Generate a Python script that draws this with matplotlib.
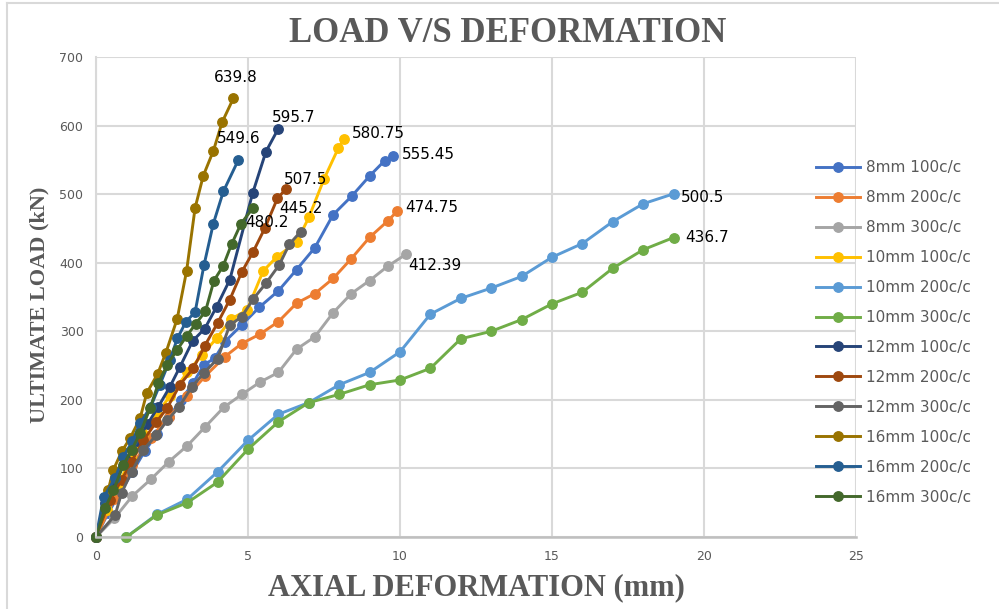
import matplotlib
matplotlib.use("Agg")
import matplotlib.pyplot as plt
from matplotlib.lines import Line2D

# ---------------------------------------------------------------------------
# Data (deformation in mm, load in kN)
# ---------------------------------------------------------------------------
series_names = [
    "8mm 100c/c", "8mm 200c/c", "8mm 300c/c",
    "10mm 100c/c", "10mm 200c/c", "10mm 300c/c",
    "12mm 100c/c", "12mm 200c/c", "12mm 300c/c",
    "16mm 100c/c", "16mm 200c/c", "16mm 300c/c",
]

x_8_100 = [0, 0.4, 0.8, 1.2, 1.6, 2.0, 2.4, 2.8, 3.2, 3.55, 3.91, 4.24, 4.79,
           5.37, 6.0, 6.6, 7.2, 7.8, 8.41, 9.01, 9.5, 9.76]
y_8_100 = [0, 35, 65, 95, 125, 150, 175, 200, 225, 251, 261, 285, 309,
           335, 359, 390, 422, 470, 497, 527, 549, 555.45]

x_8_200 = [0, 0.6, 1.2, 1.8, 2.4, 3.0, 3.6, 4.24, 4.79, 5.4, 6.0, 6.6, 7.2,
           7.8, 8.4, 9.0, 9.6, 9.9]
y_8_200 = [0, 55, 105, 145, 175, 205, 235, 263, 282, 296, 314, 341, 355,
           377, 406, 437, 461, 474.75]

x_8_300 = [0, 0.6, 1.2, 1.8, 2.4, 3.0, 3.6, 4.2, 4.8, 5.4, 6.0, 6.6, 7.2,
           7.8, 8.4, 9.0, 9.6, 10.2]
y_8_300 = [0, 27, 60, 84, 110, 133, 161, 189, 208, 226, 240, 274, 292,
           327, 355, 374, 395, 412.39]

x_10_100 = [0, 0.35, 0.75, 1.15, 1.55, 2.0, 2.43, 3.0, 3.5, 3.97, 4.45, 4.97,
            5.5, 5.96, 6.6, 7.0, 7.5, 7.97, 8.17]
y_10_100 = [0, 40, 78, 115, 150, 180, 205, 240, 266, 290, 318, 331,
            388, 409, 430, 466, 522, 567, 580.75]

x_10_200 = [1, 2, 3, 4, 5, 6, 7, 8, 9, 10, 11, 12, 13, 14, 15, 16, 17, 18, 19]
y_10_200 = [0, 33, 55, 95, 141, 179, 196, 222, 240, 270, 325, 348, 363, 380,
            408, 428, 460, 486, 500.5]

x_10_300 = [1, 2, 3, 4, 5, 6, 7, 8, 9, 10, 11, 12, 13, 14, 15, 16, 17, 18, 19]
y_10_300 = [0, 32, 50, 80, 128, 168, 196, 208, 222, 229, 246, 289, 300, 317,
            340, 357, 392, 419, 436.7]

x_12_100 = [0, 0.3, 0.6, 1.0, 1.35, 1.7, 2.05, 2.43, 2.76, 3.18, 3.58, 3.97,
            4.4, 5.15, 5.59, 6.0]
y_12_100 = [0, 50, 80, 112, 140, 165, 190, 219, 248, 286, 304, 336,
            375, 501, 562, 595.7]

x_12_200 = [0, 0.46, 0.84, 1.17, 1.56, 1.99, 2.34, 2.76, 3.2, 3.58, 4.0, 4.4,
            4.79, 5.17, 5.55, 5.97, 6.25]
y_12_200 = [0, 54, 83, 110, 141, 168, 188, 222, 246, 279, 312, 346,
            386, 416, 450, 494, 507.5]

x_12_300 = [0, 0.63, 0.84, 1.17, 1.56, 1.99, 2.34, 2.74, 3.15, 3.55, 4.0, 4.4,
            4.79, 5.17, 5.59, 6.03, 6.36, 6.73]
y_12_300 = [0, 32, 64, 95, 127, 149, 170, 190, 219, 239, 260, 309,
            321, 347, 370, 397, 427, 445.2]

x_16_100 = [0, 0.4, 0.57, 0.85, 1.12, 1.45, 1.67, 2.03, 2.3, 2.67, 2.98, 3.26,
            3.53, 3.86, 4.15, 4.52]
y_16_100 = [0, 68, 98, 125, 144, 173, 210, 238, 269, 318, 388, 480,
            527, 563, 605, 639.8]

x_16_200 = [0, 0.25, 0.63, 0.9, 1.2, 1.45, 1.8, 2.1, 2.43, 2.68, 2.96, 3.26,
            3.55, 3.86, 4.19, 4.68]
y_16_200 = [0, 58, 86, 117, 140, 166, 190, 222, 258, 290, 314, 328,
            396, 457, 504, 549.6]

x_16_300 = [0, 0.3, 0.57, 0.9, 1.17, 1.45, 1.78, 2.05, 2.34, 2.67, 2.98, 3.28,
            3.6, 3.88, 4.18, 4.46, 4.77, 5.17]
y_16_300 = [0, 42, 68, 105, 127, 151, 188, 224, 251, 273, 293, 311,
            329, 374, 395, 427, 457, 480.2]

series_x = [x_8_100, x_8_200, x_8_300, x_10_100, x_10_200, x_10_300,
            x_12_100, x_12_200, x_12_300, x_16_100, x_16_200, x_16_300]
series_y = [y_8_100, y_8_200, y_8_300, y_10_100, y_10_200, y_10_300,
            y_12_100, y_12_200, y_12_300, y_16_100, y_16_200, y_16_300]

x_ticks = [0, 5, 10, 15, 20, 25]
y_ticks = [0, 100, 200, 300, 400, 500, 600, 700]

# ---------------------------------------------------------------------------
# Styling
# ---------------------------------------------------------------------------
colors = ["#4472C4", "#ED7D31", "#A5A5A5", "#FFC000", "#5B9BD5", "#70AD47",
          "#264478", "#9E480E", "#636363", "#997300", "#255E91", "#43682B"]

# peak-value label placement: (dx, dy) in pixels, horizontal alignment
label_pos = {
    "8mm 100c/c":  (9, 2, "left"),
    "8mm 200c/c":  (8, 4, "left"),
    "8mm 300c/c":  (2, -11, "left"),
    "10mm 100c/c": (8, 5, "left"),
    "10mm 200c/c": (7, -4, "left"),
    "10mm 300c/c": (12, 0, "left"),
    "12mm 100c/c": (15, 11, "center"),
    "12mm 200c/c": (20, 9, "center"),
    "12mm 300c/c": (0, 23, "center"),
    "16mm 100c/c": (2, 21, "center"),
    "16mm 200c/c": (0, 22, "center"),
    "16mm 300c/c": (14, -15, "center"),
}

grey_text = "#595959"
grid_col = "#D9D9D9"

W, H = 999, 609
fig = plt.figure(figsize=(W / 100, H / 100), dpi=100)
ax = fig.add_axes([96 / W, 1 - 537 / H, (856 - 96) / W, (537 - 57) / H])

for name, xs, ys, c in zip(series_names, series_x, series_y, colors):
    ax.plot(xs, ys, color=c, lw=2.1, marker="o", ms=6.8, mec=c, mfc=c,
            label=name, clip_on=False)
    dx, dy, ha = label_pos[name]
    ax.annotate(f"{ys[-1]:g}", (xs[-1], ys[-1]), xytext=(dx, dy),
                textcoords="offset pixels", ha=ha, va="center",
                fontsize=11, color="black", family="DejaVu Sans")

ax.set_xlim(0, 25)
ax.set_ylim(0, 700)
ax.set_xticks(x_ticks)
ax.set_yticks(y_ticks)
ax.grid(True, color=grid_col, lw=1.5)
ax.set_axisbelow(True)
for s in ["top", "right"]:
    ax.spines[s].set_visible(False)
ax.spines["left"].set_color(grid_col)
ax.spines["left"].set_linewidth(1.5)
ax.spines["bottom"].set_color("#BFBFBF")
ax.spines["bottom"].set_linewidth(1.8)
ax.tick_params(length=0, labelsize=9, labelcolor=grey_text, pad=9)

ax.set_xlabel("AXIAL DEFORMATION (mm)", family="Liberation Serif",
              fontweight="bold", fontsize=22, color=grey_text, labelpad=8)
fig.text(39 / W, 1 - 305 / H, "ULTIMATE LOAD (kN)", rotation=90,
         family="Liberation Serif", fontweight="bold", fontsize=16,
         color=grey_text, ha="center", va="center")
fig.text(508 / W, 1 - 33 / H, "LOAD V/S DEFORMATION",
         family="Liberation Serif", fontweight="bold", fontsize=25,
         color=grey_text, ha="center", va="center")

# chart-area border
fig.add_artist(Line2D([7 / W, 7 / W], [0, 1 - 3 / H], color=grid_col, lw=1.5))
fig.add_artist(Line2D([7 / W, 1], [1 - 3 / H, 1 - 3 / H], color=grid_col, lw=1.5))

leg = fig.legend(loc="upper left", bbox_to_anchor=(816 / W, 1 - 160 / H),
                 frameon=False, fontsize=11, handlelength=2.9,
                 handletextpad=0.4, labelspacing=0.98, borderpad=0,
                 borderaxespad=0)
for t in leg.get_texts():
    t.set_color(grey_text)

fig.savefig("out.png", dpi=100)
